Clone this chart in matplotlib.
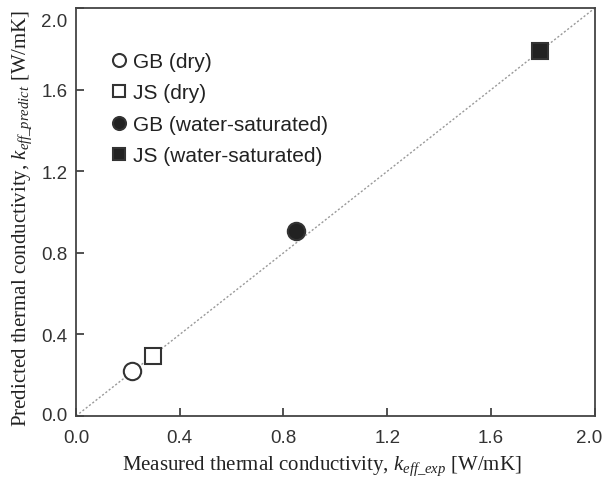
import matplotlib
matplotlib.use('Agg')
import matplotlib.pyplot as plt
from matplotlib.transforms import ScaledTranslation

# data
labels = ['GB (dry)', 'JS (dry)', 'GB (water-saturated)', 'JS (water-saturated)']
measured = [0.215, 0.295, 0.85, 1.79]
predicted = [0.22, 0.295, 0.905, 1.79]
markers = ['o', 's', 'o', 's']
filled = [False, False, True, True]
ticks = [0.0, 0.4, 0.8, 1.2, 1.6, 2.0]

plt.rcParams['mathtext.fontset'] = 'custom'
plt.rcParams['mathtext.rm'] = 'Liberation Serif'
plt.rcParams['mathtext.it'] = 'Liberation Serif:italic'

fig = plt.figure(figsize=(6.06, 4.81), dpi=100)
ax = fig.add_axes([0.1254, 0.133, 0.856, 0.848])

ax.plot([0, 2], [0, 2], linestyle=(0, (1.5, 1.5)), color='#999999', lw=1.0, zorder=1)

for x, y, m, f, lab in zip(measured, predicted, markers, filled, labels):
    ax.plot(x, y, marker=m, linestyle='none', markersize=12.5 if m == 'o' else 12,
            markerfacecolor='#222222' if f else 'white', markeredgecolor='#333333',
            markeredgewidth=1.5, label=lab, zorder=3)

ax.set_xlim(0, 2)
ax.set_ylim(0, 2)
ax.set_xticks(ticks)
ax.set_yticks(ticks)
ax.set_xticklabels(['%.1f' % t for t in ticks], family='Liberation Sans', fontsize=13.5, color='#333333')
ax.set_yticklabels(['%.1f' % t for t in ticks], family='Liberation Sans', fontsize=13.5, color='#333333')
ax.tick_params(direction='in', length=6, width=1.2, color='#333333')
ax.tick_params(axis='x', pad=9)
ax.tick_params(axis='y', pad=6)

# nudge the end labels inward like the original
xl = ax.get_xticklabels()
xl[-1].set_transform(xl[-1].get_transform() + ScaledTranslation(-6 / 100, 0, fig.dpi_scale_trans))
yl = ax.get_yticklabels()
yl[-1].set_transform(yl[-1].get_transform() + ScaledTranslation(0, -11 / 100, fig.dpi_scale_trans))
yl[0].set_transform(yl[0].get_transform() + ScaledTranslation(0, 3 / 100, fig.dpi_scale_trans))

for s in ax.spines.values():
    s.set_color('#444444')
    s.set_linewidth(1.3)

ax.set_xlabel(r'Measured thermal conductivity, $k_{eff\_exp}$ [W/mK]',
              family='Liberation Serif', fontsize=15, color='#222222', labelpad=6)
ax.set_ylabel(r'Predicted thermal conductivity, $k_{eff\_predict}$ [W/mK]',
              family='Liberation Serif', fontsize=15, color='#222222', labelpad=5)
ax.xaxis.label.set_x(0.474)
ax.yaxis.label.set_y(0.487)

leg = ax.legend(loc='upper left', bbox_to_anchor=(0.04, 0.913), frameon=False,
                prop={'family': 'Liberation Sans', 'size': 15},
                handletextpad=0.05, labelspacing=0.6, handlelength=1.3, markerscale=0.75,
                borderaxespad=0)
for t in leg.get_texts():
    t.set_color('#222222')

fig.savefig('out.png', dpi=100)
